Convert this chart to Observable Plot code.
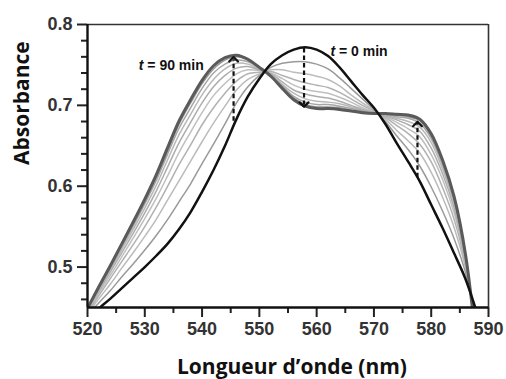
<!DOCTYPE html>
<html><head><meta charset="utf-8">
<script src="https://cdn.jsdelivr.net/npm/d3@7"></script>
<script src="https://cdn.jsdelivr.net/npm/@observablehq/plot@0.6"></script>
<style>
body{margin:0;background:#fff}
#chart{width:506px;height:379px}
g[aria-label="x-axis tick label"] text, g[aria-label="y-axis tick label"] text{font-weight:bold}
</style>
</head><body><div id="chart"></div>
<script>
// ---- data ----
const wavelengths = [520,522,524,526,528,530,532,534,536,538,540,542,544,546,548,550,552,554,556,558,560,562,564,566,568,570,572,574,576,578,580,582,584,586,588];
const abs0  = [.437,.449,.461,.474,.487,.500,.514,.529,.547,.568,.593,.620,.650,.683,.711,.733,.751,.762,.769,.772,.769,.761,.747,.730,.713,.697,.677,.653,.630,.606,.577,.548,.517,.485,.443];
const abs10 = [.440,.456,.471,.488,.504,.521,.539,.559,.581,.603,.628,.652,.677,.703,.723,.737,.747,.752,.754,.754,.751,.745,.734,.721,.708,.695,.680,.662,.645,.625,.599,.569,.535,.493,.431];
const abs20 = [.442,.461,.479,.499,.518,.538,.559,.583,.607,.631,.655,.678,.699,.719,.732,.739,.744,.744,.741,.739,.736,.732,.724,.713,.703,.694,.683,.669,.656,.641,.617,.586,.549,.499,.421];
const abs30 = [.444,.465,.486,.507,.528,.550,.574,.600,.627,.651,.676,.697,.715,.730,.739,.741,.742,.737,.732,.728,.725,.722,.716,.708,.700,.693,.685,.675,.665,.652,.630,.598,.559,.503,.414];
const abs40 = [.446,.468,.490,.513,.536,.560,.585,.613,.642,.667,.691,.712,.727,.739,.744,.743,.740,.733,.725,.720,.717,.715,.710,.704,.697,.692,.686,.679,.671,.661,.639,.608,.567,.506,.409];
const abs50 = [.447,.471,.494,.518,.542,.567,.594,.624,.654,.679,.703,.723,.737,.746,.748,.744,.739,.729,.719,.714,.711,.709,.705,.700,.695,.691,.687,.682,.676,.668,.647,.615,.573,.509,.405];
const abs60 = [.447,.472,.497,.522,.547,.573,.601,.633,.664,.689,.713,.732,.745,.752,.751,.745,.738,.726,.715,.708,.705,.704,.702,.698,.694,.691,.688,.684,.680,.673,.654,.621,.578,.511,.401];
const abs70 = [.448,.474,.499,.525,.551,.578,.607,.640,.672,.697,.721,.740,.751,.756,.754,.746,.737,.724,.711,.704,.701,.701,.699,.696,.693,.690,.689,.686,.684,.678,.659,.626,.582,.513,.398];
const abs80 = [.449,.475,.501,.527,.554,.581,.611,.644,.677,.703,.727,.745,.756,.760,.756,.747,.736,.722,.709,.701,.698,.698,.697,.694,.692,.690,.690,.688,.686,.681,.662,.630,.585,.514,.396];
const abs90 = [.449,.476,.502,.529,.556,.584,.614,.648,.681,.707,.731,.749,.759,.762,.757,.747,.736,.721,.707,.699,.696,.696,.695,.693,.691,.690,.690,.689,.688,.683,.665,.632,.587,.515,.395];

const seriesNames = ["0 min","10 min","20 min","30 min","40 min","50 min","60 min","70 min","80 min","90 min"];
const seriesValues = [abs0,abs10,abs20,abs30,abs40,abs50,abs60,abs70,abs80,abs90];

const xTicks = [520,530,540,550,560,570,580,590];
const xTickLabels = ["520","530","540","550","560","570","580","590"];
const xMinorTicks = [525,535,545,555,565,575,585];
const yTicks = [0.5,0.6,0.7,0.8];
const yTickLabels = ["0.5","0.6","0.7","0.8"];
const yMinorTicks = [0.46,0.48,0.52,0.54,0.56,0.58,0.62,0.64,0.66,0.68,0.72,0.74,0.76,0.78];
const xDomain = [520,590];
const yDomain = [0.45,0.8];

const arrowX    = [545.5, 557.8, 577.6];
const arrowFrom = [0.681, 0.771, 0.611];
const arrowTo   = [0.757, 0.701, 0.677];

const noteText = ["t = 90 min", "t = 0 min"];
const noteX = [528.95, 562.4];
const noteY = [0.7498, 0.7672];

const xTitle = "Longueur d\u2019onde (nm)";
const yTitle = "Absorbance";

// ---- build tables ----
const rows = [];
seriesValues.forEach((vals, s) => vals.forEach((v, i) => rows.push({series: seriesNames[s], idx: s, x: wavelengths[i], y: v})));
const midRows = rows.filter(d => d.idx > 0 && d.idx < seriesNames.length - 1);
const firstRows = rows.filter(d => d.idx === 0);
const lastRows = rows.filter(d => d.idx === seriesNames.length - 1);
const arrows = arrowX.map((x, i) => ({x, from: arrowFrom[i], to: arrowTo[i]}));
const notes = noteText.map((t, i) => ({t, x: noteX[i], y: noteY[i]}));
const midColors = ["#8e8e8e","#b4b4b4","#a9a9a9","#b8b8b8","#a4a4a4","#b0b0b0","#9c9c9c","#8a8a8a"];

const tickFont = "'Liberation Sans', Arial, sans-serif";
const titleFont = "'Open Sans', 'Noto Sans', sans-serif";

const chart = Plot.plot({
  width: 506, height: 379,
  marginLeft: 87, marginRight: 18, marginTop: 24, marginBottom: 72,
  style: {fontFamily: tickFont, background: "#fff"},
  x: {domain: xDomain},
  y: {domain: yDomain},
  color: {domain: seriesNames.slice(1, -1), range: midColors},
  marks: [
    Plot.line(midRows, {x: "x", y: "y", z: "series", stroke: "series", strokeWidth: 1.5, strokeOpacity: 0.9, curve: "catmull-rom", clip: true}),
    Plot.line(lastRows, {x: "x", y: "y", stroke: "#5a5a5a", strokeWidth: 3, curve: "catmull-rom", clip: true}),
    Plot.line(firstRows, {x: "x", y: "y", stroke: "#111", strokeWidth: 2.5, curve: "catmull-rom", clip: true}),
    Plot.link(arrows, {x1: "x", x2: "x", y1: "from", y2: "to", stroke: "#111", strokeWidth: 2.2, strokeDasharray: "4.5,3", markerEnd: "arrow"}),
    Plot.text(notes, {x: "x", y: "y", text: "t", textAnchor: "start", lineAnchor: "middle", fontSize: 14, fontWeight: "bold", fill: "#111"}),
    Plot.ruleY([yDomain[1]], {stroke: "#333", strokeWidth: 1.6}),
    Plot.ruleX([xDomain[1]], {stroke: "#333", strokeWidth: 1.6}),
    Plot.axisX(xMinorTicks, {tickSize: 6, strokeWidth: 2, stroke: "#222", tickFormat: () => "", label: null}),
    Plot.axisY(yMinorTicks, {tickSize: 6, strokeWidth: 2, stroke: "#222", tickFormat: () => "", label: null}),
    Plot.axisX(xTicks, {tickSize: 10, tickPadding: 5, strokeWidth: 2, stroke: "#222", fontSize: 18, fill: "#333", tickFormat: (d) => xTickLabels[xTicks.indexOf(d)], label: null}),
    Plot.axisY(yTicks, {tickSize: 10, tickPadding: 5, strokeWidth: 2, stroke: "#222", fontSize: 18, fill: "#333", tickFormat: (d) => yTickLabels[yTicks.indexOf(d)], label: null}),
    Plot.ruleY([yDomain[0]], {stroke: "#111", strokeWidth: 2.4}),
    Plot.ruleX([xDomain[0]], {stroke: "#111", strokeWidth: 2.4}),
    Plot.text([xTitle], {frameAnchor: "bottom", lineAnchor: "bottom", dy: 66, dx: 4, fontSize: 21, fontWeight: "bold", fontFamily: titleFont, fill: "#111"}),
    Plot.text([yTitle], {frameAnchor: "left", lineAnchor: "bottom", rotate: -90, dx: -59, dy: -1, fontSize: 21, fontWeight: "bold", fontFamily: titleFont, fill: "#111"})
  ]
});
document.getElementById("chart").appendChild(chart);

// markers: keep arrowheads solid
d3.select(chart).selectAll("marker").attr("stroke-dasharray", "none");
// italic "t" in annotations
d3.select(chart).selectAll("text").each(function () {
  const s = this.textContent;
  if (s.startsWith("t = ")) {
    const el = d3.select(this);
    el.text(null);
    el.append("tspan").attr("font-style", "italic").text("t");
    el.append("tspan").text(s.slice(1));
  }
});
</script>
</body></html>
